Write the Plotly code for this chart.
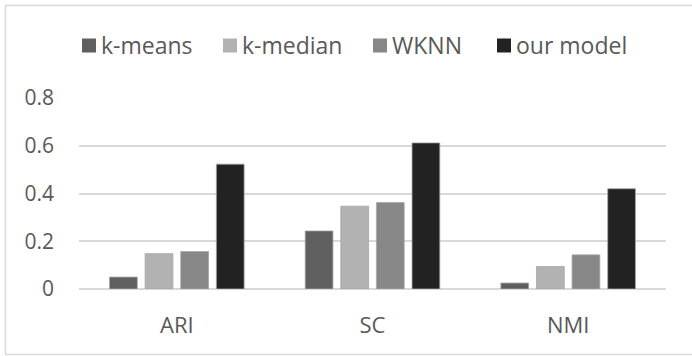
import plotly.graph_objects as go

categories = ["ARI", "SC", "NMI"]
series_names = ["k-means", "k-median", "WKNN", "our model"]
kmeans = [0.05, 0.243, 0.025]
kmedian = [0.148, 0.347, 0.094]
wknn = [0.157, 0.362, 0.143]
ours = [0.523, 0.612, 0.42]
y_ticks = [0, 0.2, 0.4, 0.6, 0.8]
y_tick_labels = ["0", "0.2", "0.4", "0.6", "0.8"]

values = [kmeans, kmedian, wknn, ours]
colors = ["#5f5f5f", "#b2b2b2", "#878787", "#222222"]

FONT = "Open Sans"
TXT = "#595959"

fig = go.Figure()
for name, vals, col in zip(series_names, values, colors):
    fig.add_trace(go.Bar(
        name=name, x=categories, y=vals,
        marker=dict(color=col, line=dict(color="#a6a6a6", width=0.8)),
        hoverinfo="skip", showlegend=False,
    ))

W, H = 692, 356
ml, mr, mt, mb = 79, 26, 98, 67
pw, ph = W - ml - mr, H - mt - mb

def px_x(p):
    return (p - ml) / pw

def px_y(p):
    return (H - mb - p) / ph

# legend layout (pixel positions of each entry's square)
legend_sq_x = [82, 223, 373, 497]
sq = 14
legend_cy = 45.5

shapes = [dict(
    type="rect", xref="paper", yref="paper",
    x0=px_x(5.5), x1=px_x(720), y0=px_y(354.5), y1=px_y(5.5),
    line=dict(color="#d9d9d9", width=1.5), fillcolor="rgba(0,0,0,0)",
    layer="below",
)]
annotations = []
for name, col, sx in zip(series_names, colors, legend_sq_x):
    shapes.append(dict(
        type="rect", xref="paper", yref="paper",
        x0=px_x(sx), x1=px_x(sx + sq),
        y0=px_y(legend_cy + sq / 2), y1=px_y(legend_cy - sq / 2),
        line=dict(width=0), fillcolor=col,
    ))
    annotations.append(dict(
        text=name, xref="paper", yref="paper",
        x=px_x(sx + sq + 5), y=px_y(legend_cy - 0.5),
        xanchor="left", yanchor="middle", showarrow=False,
        borderpad=0, borderwidth=0,
        font=dict(family=FONT, size=23, color=TXT),
    ))

fig.update_layout(
    width=W, height=H,
    margin=dict(l=ml, r=mr, t=mt, b=mb, pad=0),
    paper_bgcolor="white", plot_bgcolor="white",
    barmode="group", bargap=0.272, bargroupgap=0.22,
    font=dict(family=FONT, size=22, color=TXT),
    showlegend=False,
    xaxis=dict(
        type="category", showgrid=False, showline=False, zeroline=False,
        ticks="", ticklabelstandoff=21,
        tickfont=dict(family=FONT, size=22, color=TXT),
        fixedrange=True,
    ),
    yaxis=dict(
        range=[0, 0.8], tickvals=y_ticks, ticktext=y_tick_labels,
        showgrid=True, gridcolor="#d9d9d9", gridwidth=1.5,
        zeroline=True, zerolinecolor="#d9d9d9", zerolinewidth=1.5,
        showline=False, ticks="", ticklabelstandoff=24,
        tickfont=dict(family=FONT, size=21, color=TXT),
        fixedrange=True,
    ),
    shapes=shapes,
    annotations=annotations,
)

fig.write_html("out.html", config=dict(displayModeBar=False))
